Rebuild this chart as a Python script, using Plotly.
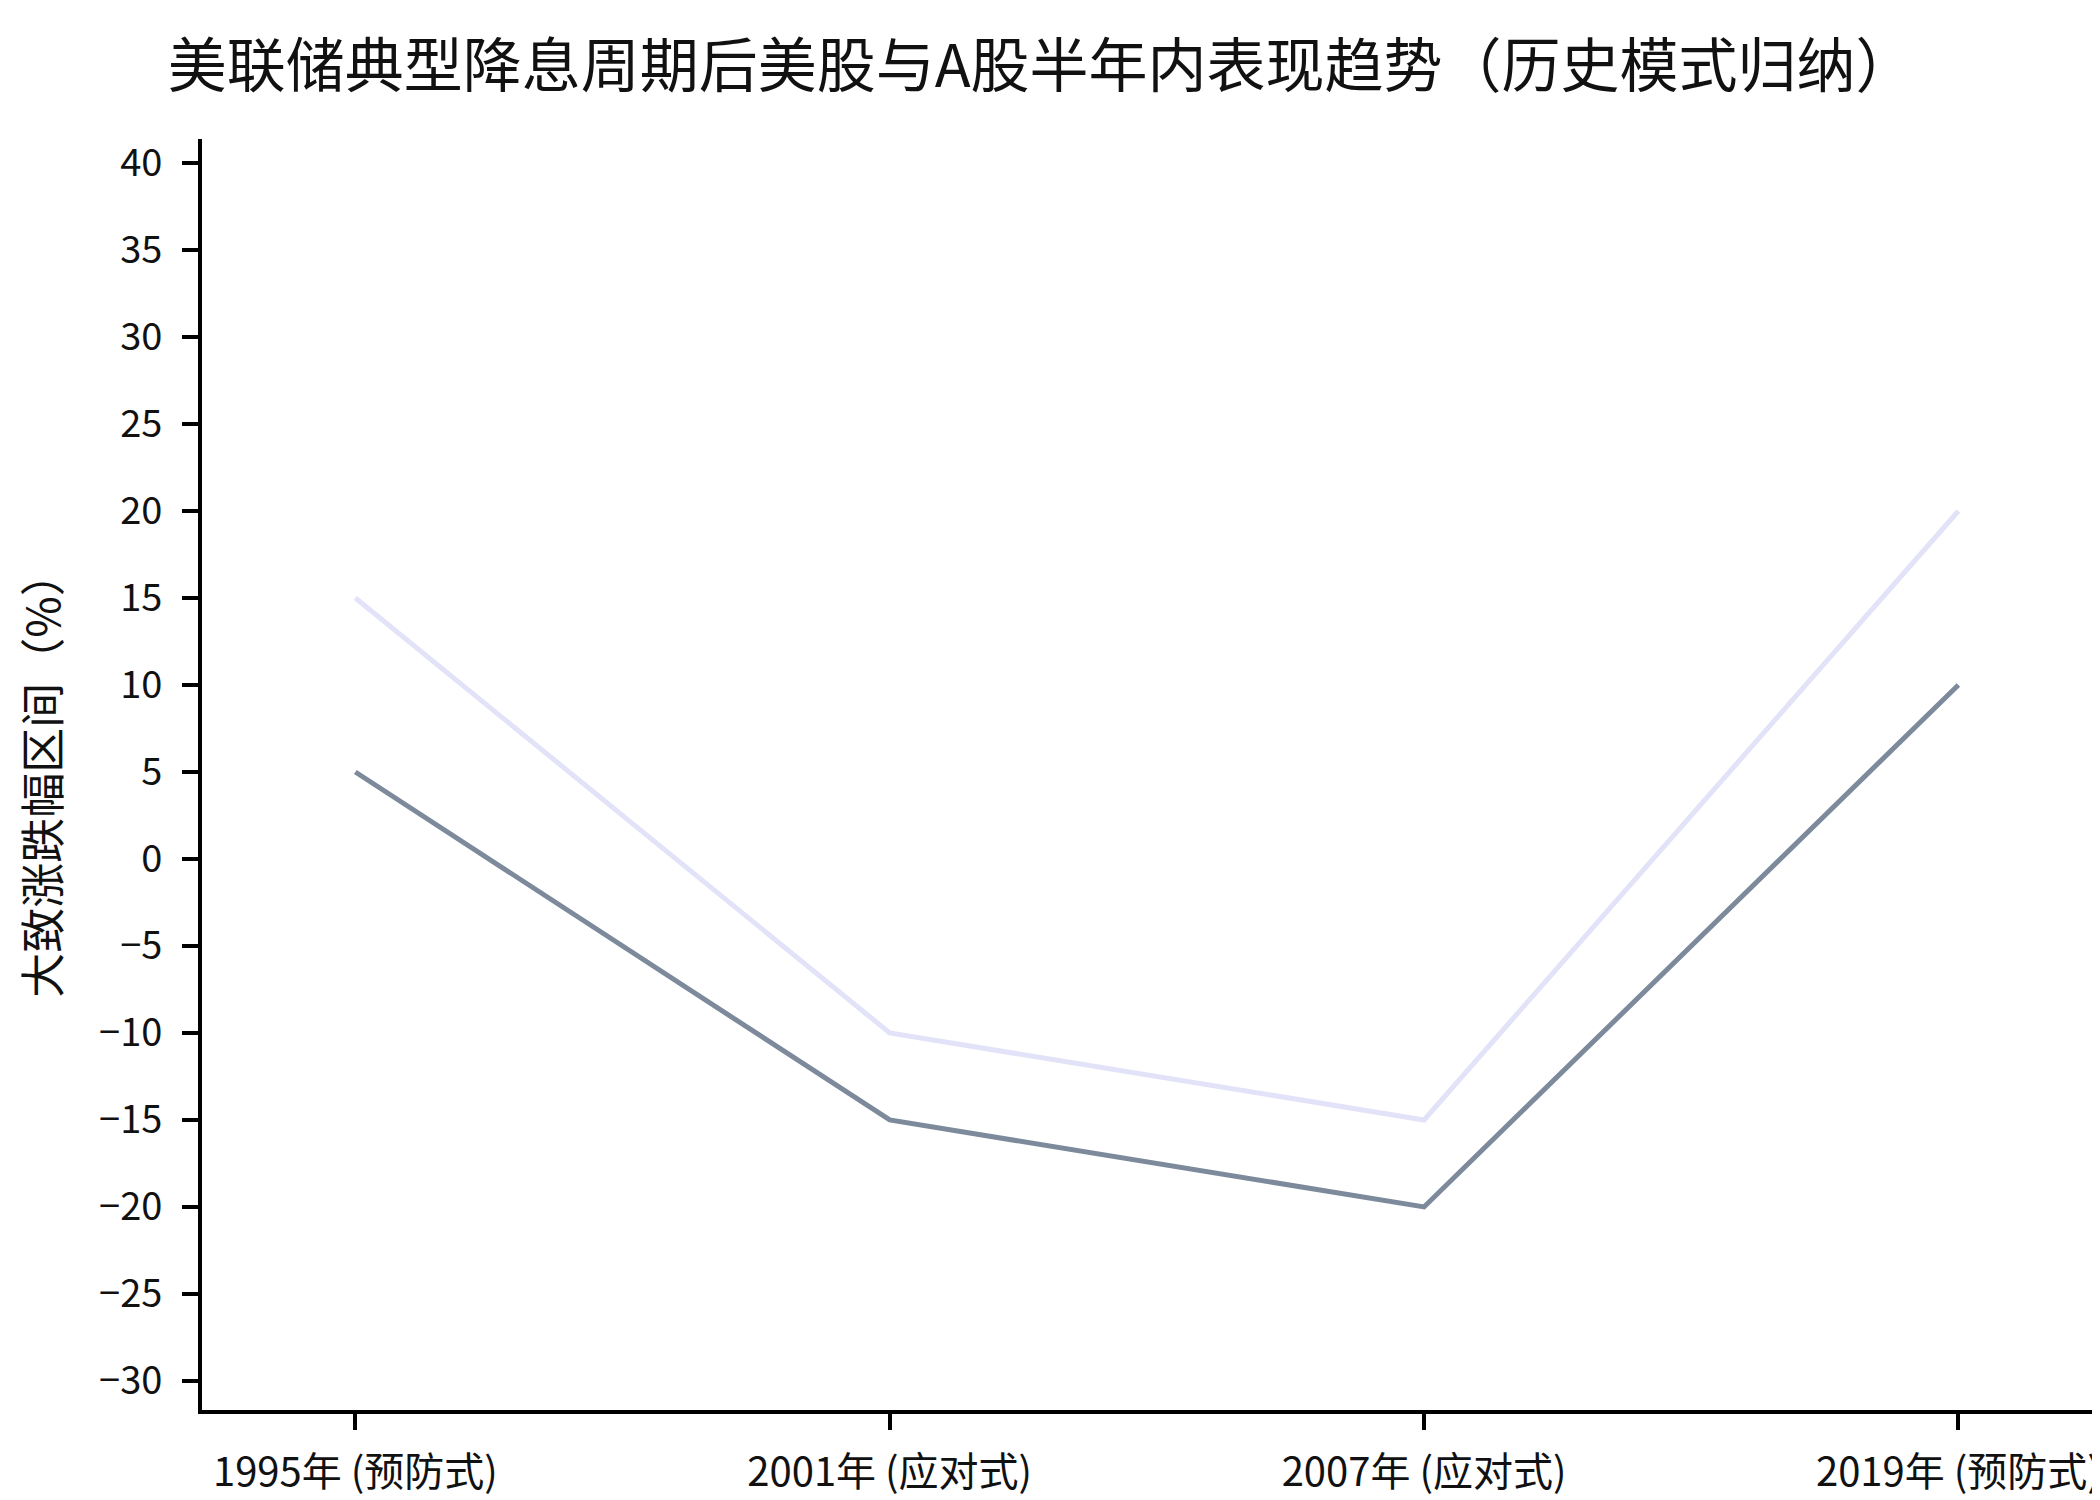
import plotly.graph_objects as go

# 四个典型降息周期
periods = ["1995年 (预防式)", "2001年 (应对式)", "2007年 (应对式)", "2019年 (预防式)"]
# 降息后半年内大致涨跌幅（%）
us_stocks = [15, -10, -15, 20]
a_shares = [5, -15, -20, 10]
y_ticks = list(range(-30, 45, 5))

font_family = "Noto Sans CJK SC, Noto Sans, sans-serif"
x_pos = list(range(len(periods)))

fig = go.Figure()
fig.add_trace(go.Scatter(x=x_pos, y=us_stocks, mode="lines", name="美股",
                         line=dict(color="#e2e2f8", width=5)))
fig.add_trace(go.Scatter(x=x_pos, y=a_shares, mode="lines", name="A股",
                         line=dict(color="#7d8a9c", width=5)))

fig.update_layout(
    width=2100, height=1500,
    paper_bgcolor="white", plot_bgcolor="white",
    showlegend=False,
    font=dict(family=font_family, color="#111111"),
    margin=dict(l=194, r=0, t=131, b=98),
    title=dict(text="美联储典型降息周期后美股与A股半年内表现趋势（历史模式归纳）",
               x=0.492, xanchor="center", xref="container",
               y=1 - 58 / 1500, yanchor="middle", yref="container",
               font=dict(size=59, family=font_family, color="#111111")),
)
fig.update_xaxes(
    tickmode="array", tickvals=x_pos, ticktext=periods,
    range=[-0.287, 3.28],
    showgrid=False, zeroline=False,
    showline=True, linecolor="black", linewidth=4,
    ticks="outside", ticklen=16, tickwidth=4, tickcolor="black",
    ticklabelstandoff=8,
    tickfont=dict(size=40, family=font_family, color="#111111"),
)
fig.update_yaxes(
    tickmode="array", tickvals=y_ticks,
    range=[-31.67, 41.38],
    showgrid=False, zeroline=False,
    showline=True, linecolor="black", linewidth=4,
    ticks="outside", ticklen=16, tickwidth=4, tickcolor="black",
    ticklabelstandoff=12,
    tickfont=dict(size=38, family=font_family, color="#111111"),
    title=dict(text="大致涨跌幅区间（%）", standoff=28,
               font=dict(size=45, family=font_family, color="#111111")),
)

fig.write_html("out.html")
